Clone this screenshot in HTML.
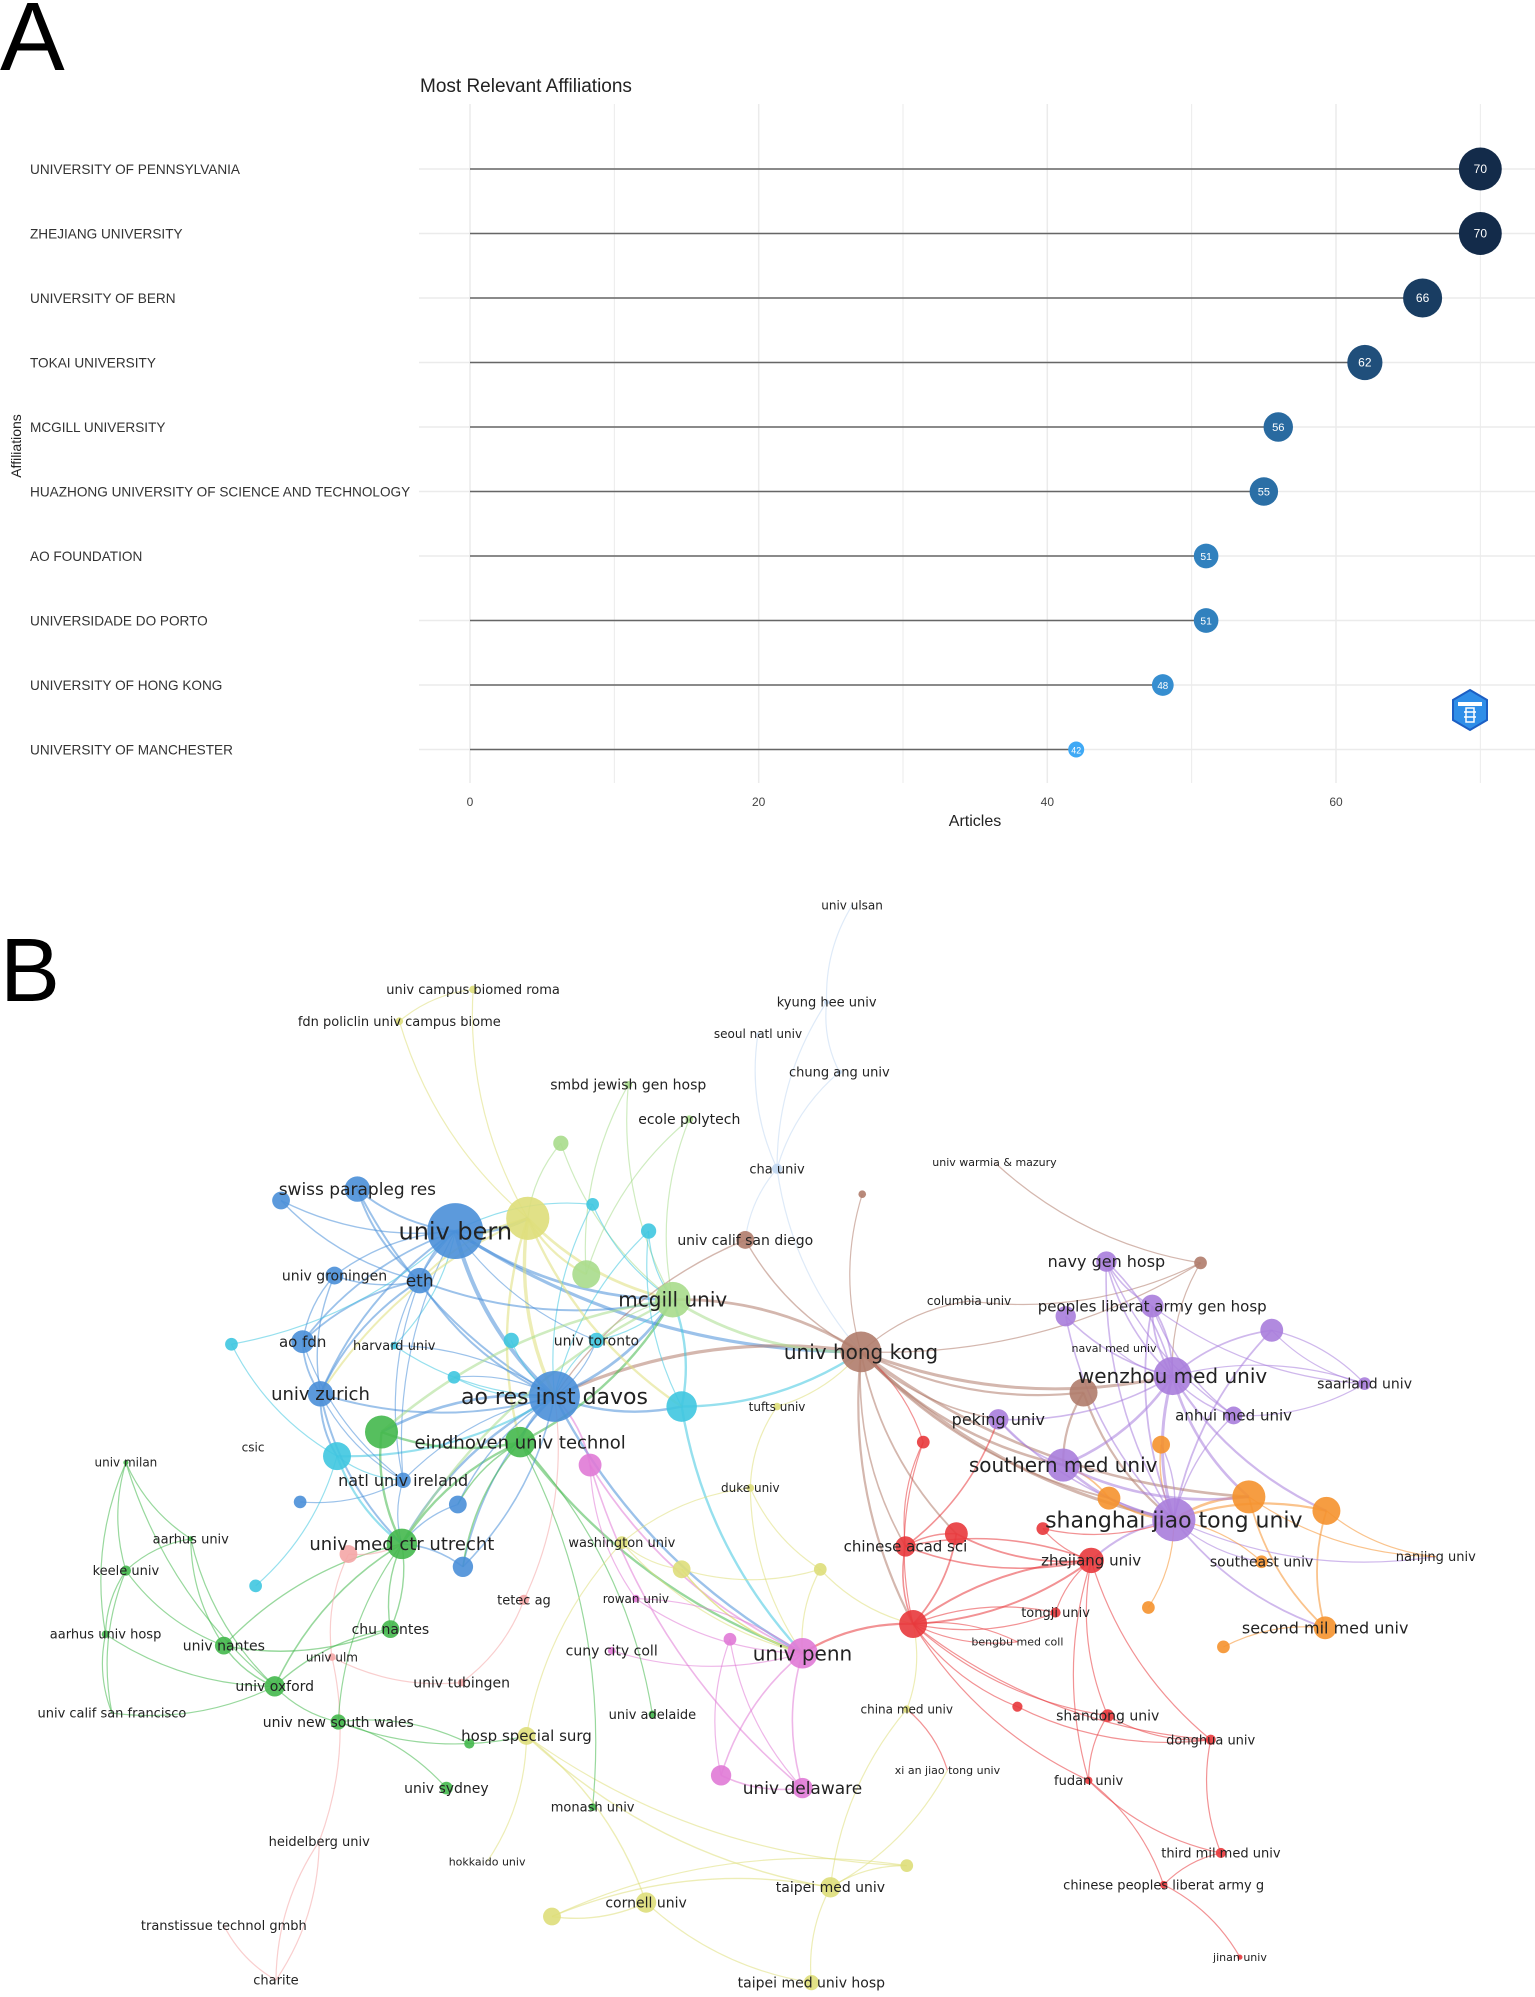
<!DOCTYPE html>
<html><head><meta charset="utf-8"><style>
html,body{margin:0;padding:0;background:#fff;}
body{width:1535px;height:1997px;overflow:hidden;position:relative;font-family:"Liberation Sans",sans-serif;}
svg{position:absolute;left:0;top:0;}
</style></head><body>
<svg id="chart" width="1535" height="1997" viewBox="0 0 1535 1997" font-family="Liberation Sans, sans-serif">
<text x="0" y="70" font-size="97" fill="#000">A</text>
<text x="0" y="1001" font-size="90" fill="#000">B</text>
<g id="panelA"></g>
<g id="panelB"></g>
</svg>
<script>
// ---------- Panel A data ----------
const affiliations = ["UNIVERSITY OF PENNSYLVANIA","ZHEJIANG UNIVERSITY","UNIVERSITY OF BERN","TOKAI UNIVERSITY","MCGILL UNIVERSITY","HUAZHONG UNIVERSITY OF SCIENCE AND TECHNOLOGY","AO FOUNDATION","UNIVERSIDADE DO PORTO","UNIVERSITY OF HONG KONG","UNIVERSITY OF MANCHESTER"];
const articles = [70,70,66,62,56,55,51,51,48,42];
const xTicks = [0,20,40,60];

// ---------- Panel B data (display units, scaled) ----------
const nodeLabels = ["univ ulsan","kyung hee univ","seoul natl univ","chung ang univ","cha univ","univ campus biomed roma","fdn policlin univ campus biome","smbd jewish gen hosp","ecole polytech","","swiss parapleg res","","univ bern","","","","univ calif san diego","","univ warmia & mazury","columbia univ","navy gen hosp","","","peoples liberat army gen hosp","","univ groningen","eth","","mcgill univ","ao fdn","","harvard univ","","univ toronto","univ hong kong","naval med univ","wenzhou med univ","saarland univ","","","univ zurich","ao res inst davos","","tufts univ","peking univ","anhui med univ","","","csic","","","eindhoven univ technol","","univ milan","natl univ ireland","southern med univ","","","","shanghai jiao tong univ","","","duke univ","aarhus univ","univ med ctr utrecht","","","chinese acad sci","washington univ","","zhejiang univ","southeast univ","nanjing univ","","","","keele univ","","tetec ag","rowan univ","tongji univ","","","second mil med univ","aarhus univ hosp","univ nantes","chu nantes","univ ulm","cuny city coll","","univ penn","bengbu med coll","","","univ tubingen","univ oxford","univ calif san francisco","china med univ","shandong univ","univ new south wales","univ adelaide","hosp special surg","","donghua univ","xi an jiao tong univ","fudan univ","univ sydney","","univ delaware","monash univ","heidelberg univ","third mil med univ","hokkaido univ","","taipei med univ","chinese peoples liberat army g","","cornell univ","transtissue technol gmbh","jinan univ","charite","taipei med univ hosp"];
const nodeX = [670,650,596,660,611,372,314,494,542,441,281,221,358,415,466,510,586,678,782,762,870,944,838,906,1000,263,330,461,529,238,182,310,402,469,677,876,922,1073,852,357,252,436,536,611,785,970,913,726,199,265,300,409,464,99,317,836,872,982,1043,923,360,236,590,150,316,752,820,712,489,274,858,992,1129,536,645,364,99,201,412,500,830,903,718,1042,83,176,307,261,481,574,631,800,800,962,363,216,88,713,871,266,513,414,369,952,745,856,351,567,631,466,251,960,383,713,653,915,434,508,176,975,217,638];
const nodeY = [712,788,813,843,919,778,803,853,880,899,935,944,968,958,947,968,975,939,914,1023,992,993,1035,1027,1046,1003,1007,1002,1022,1055,1057,1058,1054,1054,1063,1060,1082,1088,1095,1083,1096,1098,1106,1106,1116,1113,1136,1134,1138,1145,1126,1134,1152,1150,1164,1152,1178,1177,1188,1195,1183,1181,1170,1210,1214,1206,1202,1216,1213,1222,1227,1228,1224,1234,1234,1232,1235,1247,1258,1257,1268,1264,1277,1280,1285,1294,1281,1303,1298,1289,1300,1291,1342,1295,1323,1326,1347,1344,1349,1354,1348,1365,1371,1368,1392,1400,1406,1396,1406,1421,1448,1457,1464,1467,1484,1482,1507,1496,1514,1539,1557,1559];
const nodeSize = [1,2,1,2,4,3,3,3,3,6,10,7,22,17,5,6,7,3,0,0,8,5,8,9,9,7,10,11,14,9,5,3,6,6,16,0,15,5,11,5,10,20,12,3,8,7,7,5,0,11,13,12,9,2,6,13,9,13,11,17,7,5,3,2,12,9,5,8,5,7,10,5,0,7,5,8,4,5,4,3,4,5,11,9,3,7,7,3,3,5,12,0,4,5,3,8,0,3,5,6,3,7,4,4,0,3,5,8,8,3,0,4,0,5,8,3,7,8,0,2,0,6];
const nodeCluster = [10,10,10,10,10,4,4,2,2,2,0,0,0,4,1,1,6,6,6,6,8,6,8,8,8,0,0,2,2,0,1,1,1,1,6,8,8,8,6,1,0,0,1,4,8,8,9,7,1,1,3,3,5,3,0,8,9,9,9,8,0,0,4,3,3,7,7,7,4,11,7,9,9,4,4,0,3,1,11,5,7,9,7,9,3,3,3,11,5,5,5,7,7,9,11,3,3,4,7,3,3,4,3,7,7,7,3,5,5,3,11,7,4,4,4,7,4,4,11,7,11,4];
const labelSize = [12,13,12,13,13,13,13,14,14,0,17,0,24,0,0,0,14,0,11,12,16,0,0,15,0,14,17,0,20,15,0,13,0,14,20,11,20,14,0,0,18,22,0,12,16,15,0,0,12,0,0,18,0,12,16,20,0,0,0,22,0,0,12,13,18,0,0,15,13,0,15,14,13,0,0,0,13,0,13,12,13,0,0,16,13,14,14,12,14,0,20,11,0,0,14,14,13,12,14,14,13,15,0,13,11,13,14,0,17,13,13,13,11,0,14,13,0,14,13,11,13,14];

const edgePairs = "0-1 1-3 1-4 2-4 3-4 4-34 4-16 5-13 6-13 5-6 7-27 8-27 7-28 8-28 9-13 9-28 10-12 11-12 10-26 11-26 10-41 12-13 12-26 12-41 12-25 12-29 12-40 12-28 12-34 13-41 13-28 13-27 13-51 14-41 15-41 14-12 15-28 16-34 17-34 16-41 18-21 19-34 19-21 20-23 20-36 21-36 22-36 23-36 24-36 23-37 24-37 22-59 25-26 25-40 26-41 26-29 29-40 30-49 30-12 31-41 31-12 32-41 33-41 33-28 34-41 34-28 34-59 34-36 34-55 34-67 34-82 34-21 34-38 35-36 36-59 36-45 38-59 38-55 39-41 40-41 40-49 40-54 41-51 41-42 41-50 41-64 41-90 41-28 42-28 42-90 42-34 43-62 43-34 44-55 44-36 45-59 46-59 47-67 47-34 49-54 49-41 50-51 50-64 51-64 51-28 51-90 52-90 52-41 53-76 53-84 54-64 55-59 56-59 57-59 58-59 56-55 57-83 58-83 59-70 59-71 59-72 57-72 58-72 60-64 61-54 62-68 62-90 63-76 63-95 64-85 64-86 64-95 65-67 65-70 66-70 67-70 67-82 68-73 68-90 69-87 69-64 70-80 70-98 70-82 71-59 73-74 73-90 74-82 75-64 75-41 76-84 76-85 77-49 78-41 79-90 80-82 81-59 82-90 82-91 82-92 82-98 83-93 84-95 85-95 86-64 86-95 87-94 88-90 89-107 90-107 90-108 91-82 92-103 94-78 95-99 96-95 97-82 98-103 98-105 99-101 100-51 101-113 102-99 103-111 104-97 105-111 106-99 107-108 109-51 110-87 110-120 111-115 112-101 113-116 114-116 114-121 113-114 115-105 116-117 117-101 117-121 118-120 119-115 120-110 12-54 12-33 12-31 41-54 41-60 41-75 41-33 41-31 41-39 26-40 26-28 26-54 25-29 29-54 40-64 49-64 14-28 15-42 13-42 13-26 13-40 28-64 28-50 28-33 28-34 34-57 34-56 34-65 34-44 36-57 36-58 36-20 36-23 20-45 23-45 24-59 23-59 20-59 44-59 55-57 55-36 59-83 59-46 70-67 82-70 82-65 82-80 82-105 82-103 70-105 70-103 67-44 66-59 47-82 51-60 51-75 64-99 85-86 63-85 53-63 84-96 76-96 53-95 62-74 73-90 74-90 68-101 101-114 114-104 97-114 89-108 90-79 52-79 52-108 37-24 37-36 45-37";

const S = 1535/1207;
const ns = "http://www.w3.org/2000/svg";
function mk(tag, attrs, parent){const e=document.createElementNS(ns,tag);for(const k in attrs)e.setAttribute(k,attrs[k]);parent.appendChild(e);return e;}

// ---------- Draw Panel A ----------
(function(){
  const g=document.getElementById('panelA');
  const x0=470, unit=(1336-470)/60;
  const xScale=v=>x0+v*unit;
  const rowY=i=>169+i*64.5;
  const t=mk('text',{x:420,y:92,'font-size':19,fill:'#222'},g);t.textContent='Most Relevant Affiliations';
  
  for(let v=0;v<=70;v+=10){
    const l=mk('line',{x1:xScale(v),x2:xScale(v),y1:104,y2:783,stroke:'#ebebeb','stroke-width':v%20===0?1.5:1},g);
    
  }
  affiliations.forEach((a,i)=>{
    const y=rowY(i);
    const gl=mk('line',{x1:419,x2:1535,y1:y,y2:y,stroke:'#ebebeb','stroke-width':1.5},g);
    
    const lab=mk('text',{x:30,y:y+5,'font-size':13.6,fill:'#333'},g);lab.textContent=a;
    
    const v=articles[i];
    const stem=mk('line',{x1:xScale(0),x2:xScale(v),y1:y,y2:y,stroke:'#666','stroke-width':1.6},g);
    
    const f=Math.max(0,Math.min(1,(v-42)/28));
    const c1=[63,169,245],c2=[19,43,74];
    const col='rgb('+c1.map((c,k)=>Math.round(c+(c2[k]-c)*f)).join(',')+')';
    const r=8+(v-42)*0.48;
    const dot=mk('circle',{cx:xScale(v),cy:y,r:r,fill:col},g);
    
    const vt=mk('text',{x:xScale(v),y:y+4,'font-size':Math.min(12,6+r*0.35),fill:'#fff','text-anchor':'middle'},g);vt.textContent=v;
    
  });
  xTicks.forEach(v=>{
    const tt=mk('text',{x:xScale(v),y:806,'font-size':12,fill:'#444','text-anchor':'middle'},g);tt.textContent=v;
    
  });
  const xt=mk('text',{x:975,y:826,'font-size':16,fill:'#222','text-anchor':'middle'},g);xt.textContent='Articles';
  
  const yt=mk('text',{x:0,y:0,'font-size':14,fill:'#222','text-anchor':'middle',transform:'translate(21,446) rotate(-90)'},g);yt.textContent='Affiliations';
  
  const logo=mk('g',{transform:'translate(1470,710)'},g);
  
  mk('polygon',{points:'0,-20 17,-10 17,10 0,20 -17,10 -17,-10',fill:'#2f8ee8',stroke:'#1c5fc4','stroke-width':2},logo);
  mk('rect',{x:-12,y:-8,width:24,height:4,fill:'#fff'},logo);
  mk('path',{d:'M-4,-2 h8 v14 h-8 z M-6,2 h12 M-6,7 h12',stroke:'#fff','stroke-width':1.5,fill:'none'},logo);
})();

// ---------- Draw Panel B ----------
(function(){
  const g=document.getElementById('panelB');
  const pal=['#4a8fd8','#3fc7e0','#a8dc8c','#44b84c','#dede7a','#e07ad6','#b07c6c','#e8383c','#a87ddc','#f5922e','#c2d8f2','#f4a6a6'];
  const edgeG=mk('g',{fill:'none'},g);
  
  edgePairs.split(' ').forEach(p=>{
    const [a,b]=p.split('-').map(Number);
    if(a>=nodeX.length||b>=nodeX.length)return;
    const x1=nodeX[a]*S,y1=nodeY[a]*S,x2=nodeX[b]*S,y2=nodeY[b]*S;
    const mx=(x1+x2)/2,my=(y1+y2)/2,dx=x2-x1,dy=y2-y1;
    const cx=mx-dy*0.15,cy=my+dx*0.15;
    const e=mk('path',{d:`M${x1},${y1} Q${cx},${cy} ${x2},${y2}`,stroke:pal[nodeCluster[a]],'stroke-opacity':0.55,'stroke-width':Math.max(1.2,Math.min(nodeSize[a],nodeSize[b])/5)},edgeG);
    
  });
  const nodeG=mk('g',{},g);
  
  nodeX.forEach((x,i)=>{
    if(nodeSize[i]>0){
      const c=mk('circle',{cx:x*S,cy:nodeY[i]*S,r:nodeSize[i]*S,fill:pal[nodeCluster[i]],'fill-opacity':0.9},nodeG);
      
    }
  });
  nodeX.forEach((x,i)=>{
    if(nodeLabels[i]&&labelSize[i]>0){
      const t=mk('text',{x:x*S,y:nodeY[i]*S+labelSize[i]*0.35,'font-size':labelSize[i],fill:'#222','text-anchor':'middle','font-family':'DejaVu Sans, sans-serif'},nodeG);
      t.textContent=nodeLabels[i];
      
    }
  });
})();
</script>
</body></html>
